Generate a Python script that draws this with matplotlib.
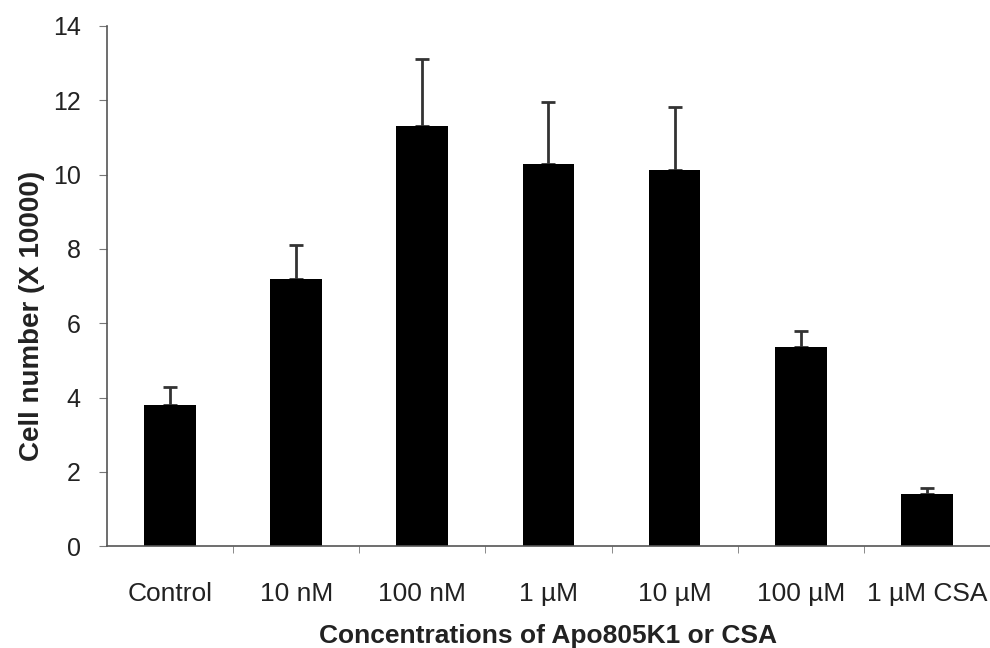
import numpy as np
import matplotlib
matplotlib.use('Agg')
import matplotlib.pyplot as plt

categories = ['Control', '10 nM', '100 nM', '1 µM', '10 µM', '100 µM', '1 µM CSA']
means = [3.80, 7.19, 11.31, 10.28, 10.12, 5.36, 1.40]
errors = [0.48, 0.91, 1.80, 1.67, 1.70, 0.43, 0.16]

plt.rcParams['font.family'] = ['Liberation Sans', 'DejaVu Sans']

fig = plt.figure(figsize=(9.9, 6.48), dpi=100)
ax = fig.add_axes([0.108, 0.157, 0.892, 0.803])

x = np.arange(len(categories))
ax.bar(x, means, width=0.41, color='black', zorder=2)
ax.errorbar(x, means, yerr=[np.zeros(len(errors)), errors], fmt='none',
            ecolor='#333333', elinewidth=2, capsize=5, capthick=2, zorder=1)

ax.set_xlim(-0.5, len(categories) - 0.5)
ax.set_ylim(0, 14)
ax.set_yticks(np.arange(0, 15, 2))
ax.set_xticks(x)
ax.set_xticklabels(categories, fontsize=19, color='#222222')
ax.set_xticks(np.arange(0.5, len(categories) - 0.5, 1), minor=True)
ax.tick_params(axis='x', which='major', length=0, pad=26)
ax.tick_params(axis='x', which='minor', length=5, color='#777777', direction='out')
ax.tick_params(axis='y', length=6, color='#777777', labelsize=18, labelcolor='#222222', pad=13)

for s in ['top', 'right']:
    ax.spines[s].set_visible(False)
ax.spines['left'].set_color('#555555')
ax.spines['bottom'].set_color('#555555')
ax.spines['left'].set_linewidth(1.2)
ax.spines['bottom'].set_linewidth(1.2)

ax.set_ylabel('Cell number (X 10000)', fontsize=20, fontweight='bold', color='#222222')
ax.yaxis.set_label_coords(-0.07, 0.442)
ax.set_xlabel('Concentrations of Apo805K1 or CSA', fontsize=19, fontweight='bold', color='#222222', labelpad=13)

fig.savefig('out.png', dpi=100)
